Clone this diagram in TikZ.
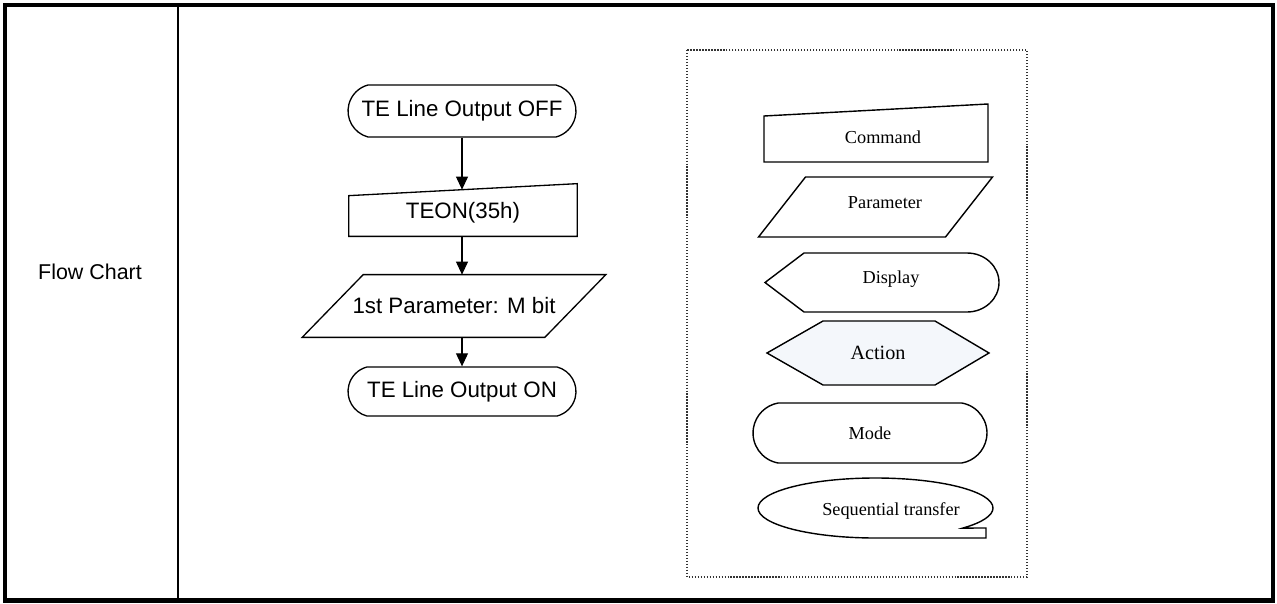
\documentclass[tikz,border=0pt]{standalone}
\usepackage{fontspec}
\setmainfont{Liberation Serif}
\setsansfont{Liberation Sans}
\usetikzlibrary{arrows.meta,positioning,calc,shapes.misc}
\definecolor{actionfill}{HTML}{F4F7FB}
\definecolor{framedots}{HTML}{333333}

\begin{document}
\begin{tikzpicture}[
  x=0.02cm, y=0.02cm,
  celltext/.style={font=\sffamily\fontsize{12.2pt}{15pt}\selectfont, inner sep=0pt},
  flowtext/.style={font=\sffamily\fontsize{12.7pt}{15pt}\selectfont, inner sep=0pt},
  termbox/.style={flowtext, rounded rectangle, rounded rectangle arc length=150,
                  draw, line width=0.75pt, minimum width=4.56cm},
  cmdbox/.style={flowtext, rectangle, minimum width=4.56cm, minimum height=0.92cm},
  parbox/.style={flowtext, rectangle, minimum width=4.84cm, minimum height=1.24cm},
  outline/.style={line width=0.75pt},
  legtext/.style={font=\fontsize{10.4pt}{12pt}\selectfont, inner sep=0pt},
  legline/.style={line width=0.8pt},
  modebox/.style={legtext, rounded rectangle, rounded rectangle arc length=160,
                  draw, line width=0.8pt, minimum width=4.68cm, minimum height=1.2cm},
  flowline/.style={line width=0.6pt, -{Triangle[length=7.4pt,width=6.8pt]}},
  tableline/.style={line width=2.3pt},
  >=Latex
]
\useasboundingbox (0,0) rectangle (1277,603);

% ---- Table cell -------------------------------------------------------------
\draw[tableline] (5,598) rectangle (1273,2.5);
\draw[line width=1.2pt] (178,598) -- (178,2.5);
\node[celltext] (rowlabel) at (90,331) {Flow Chart};

% ---- Flow chart -------------------------------------------------------------
\node[termbox, minimum height=1.04cm] (lineoff) at (462,492) {TE Line Output OFF};

\node[cmdbox] (teon) at (463,390) {TEON(35h)};
\draw[outline] (teon.south west) -- (teon.south east)
  -- ($(teon.north east)+(0,6)$) -- ($(teon.north west)+(0,-6)$) -- cycle;

\node[parbox] (param) at (454,297) {1st Parameter: M bit};
\draw[outline] ($(param.south west)+(-30.5,0)$) -- ($(param.south east)+(-30.5,0)$)
  -- ($(param.north east)+(30.5,0)$) -- ($(param.north west)+(30.5,0)$) -- cycle;

\node[termbox, minimum height=0.98cm] (lineon) at (462,211.5) {TE Line Output ON};

\draw[flowline] (lineoff.south) -- (lineoff.south |- teon.north);
\draw[flowline] (lineoff.south |- teon.south) -- (lineoff.south |- param.north);
\draw[flowline] (lineoff.south |- param.south) -- (lineon.north);

% ---- Legend of the symbols --------------------------------------------------
\draw[framedots, line width=0.7pt, dash pattern=on 0.7pt off 1.0pt]
  (687,553) rectangle (1027,26);

% command
\draw[legline] (764,441) -- (988,441) -- (988,499) -- (764,487) -- cycle;
\node[legtext] (cmdkey) at (883,466) {Command};

% parameter
\draw[legline] (758.5,366) -- (945.5,366) -- (992.5,426) -- (805.5,426) -- cycle;
\node[legtext] (parkey) at (885,400) {Parameter};

% display
\draw[legline] (765,320.5) -- (804,350) -- (967,350)
  arc[start angle=90, end angle=-90, x radius=32, y radius=29.5]
  -- (804,291) -- cycle;
\node[legtext] (dispkey) at (891,324) {Display};

% action
\draw[legline, fill=actionfill] (767,250) -- (823,282) -- (935,282) -- (989,250)
  -- (935,218) -- (823,218) -- cycle;
\node[legtext, font=\fontsize{11.5pt}{13pt}\selectfont] (actkey) at (878,250) {Action};

% mode
\node[modebox] (modekey) at (870,170) {Mode};

% sequential transfer
\draw[legline] (875.5,65)
  arc[start angle=-90, end angle=-402, x radius=117.5, y radius=30]
  -- (986,75) -- (986,65) -- cycle;
\node[legtext] (seqkey) at (891,92) {Sequential transfer};

\end{tikzpicture}
\end{document}
